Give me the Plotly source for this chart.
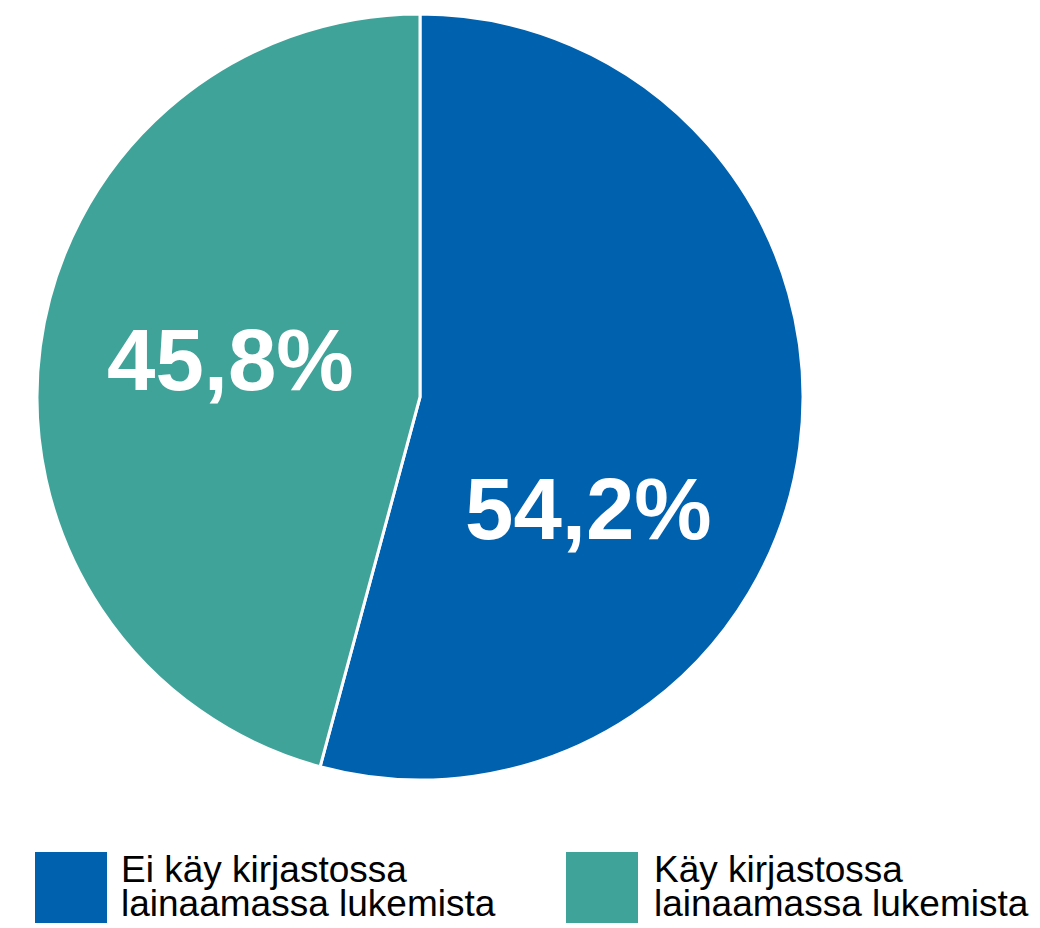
import plotly.graph_objects as go

# Data
categories = ["Ei käy kirjastossa<br>lainaamassa lukemista", "Käy kirjastossa<br>lainaamassa lukemista"]
legend_lines = [["Ei käy kirjastossa", "lainaamassa lukemista"], ["Käy kirjastossa", "lainaamassa lukemista"]]
values = [54.2, 45.8]
value_labels = ["54,2%", "45,8%"]
colors = ["#0061AE", "#40A39A"]

W, H = 1040, 928

def px(x):
    return x / W

def py(y):
    return 1 - y / H

fig = go.Figure()
fig.add_trace(go.Pie(
    labels=categories,
    values=values,
    sort=False,
    direction="clockwise",
    rotation=0,
    marker=dict(colors=colors, line=dict(color="white", width=3)),
    textinfo="none",
    hoverinfo="label+value",
    showlegend=False,
    domain=dict(x=[px(37), px(803)], y=[py(780), py(14)]),
))

annotations = []
# value labels inside slices
label_pos = [(588, 508), (230, 359)]
for (lx, ly), t in zip(label_pos, value_labels):
    annotations.append(dict(
        x=px(lx), y=py(ly), xref="paper", yref="paper",
        text=t, showarrow=False, xanchor="center", yanchor="middle",
        font=dict(family="Liberation Sans, Arial, sans-serif", size=87, color="white", weight="bold"),
    ))

shapes = []
legend_x = [(35, 120), (566, 653)]
for (sx, tx), col, lines in zip(legend_x, colors, legend_lines):
    shapes.append(dict(
        type="rect", xref="paper", yref="paper",
        x0=px(sx), x1=px(sx + 72), y0=py(923), y1=py(852),
        fillcolor=col, line=dict(width=0),
    ))
    for i, line in enumerate(lines):
        annotations.append(dict(
            x=px(tx), y=py(869 + 34 * i), xref="paper", yref="paper",
            text=line, showarrow=False, xanchor="left", yanchor="middle",
            borderpad=0,
            font=dict(family="Liberation Sans, Arial, sans-serif", size=37, color="black"),
        ))

fig.update_layout(
    width=W, height=H,
    margin=dict(l=0, r=0, t=0, b=0),
    paper_bgcolor="white",
    plot_bgcolor="white",
    annotations=annotations,
    shapes=shapes,
)

fig.write_html(
    "out.html",
    config={"displayModeBar": False},
    post_script="document.body.style.margin='0';document.body.style.padding='0';",
)
